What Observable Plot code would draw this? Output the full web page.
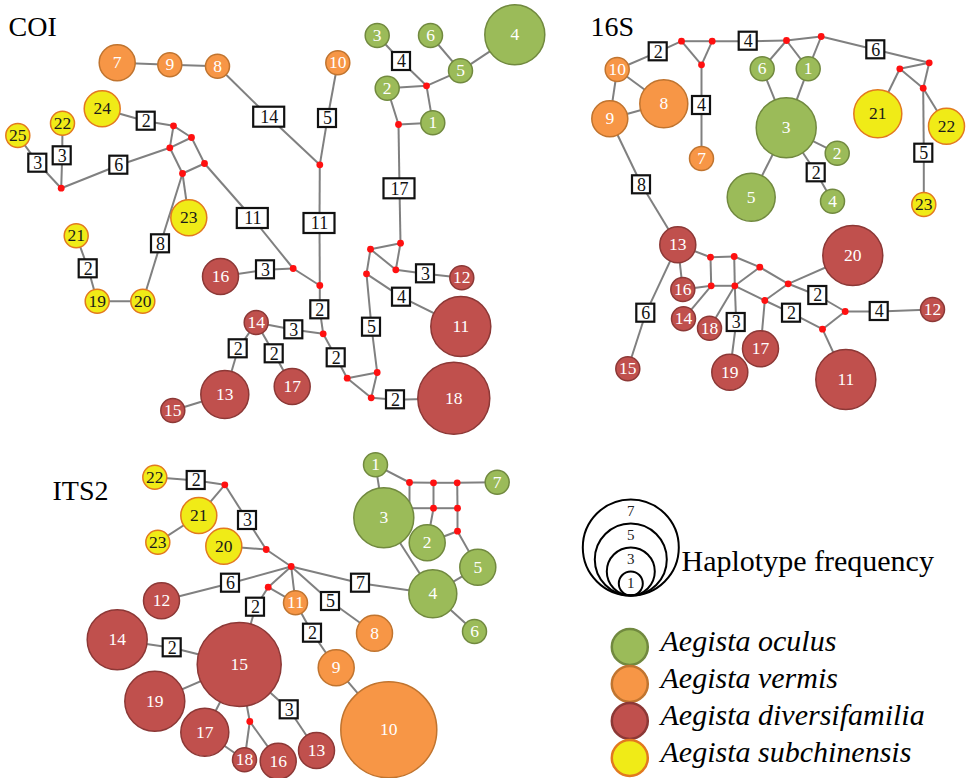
<!DOCTYPE html>
<html>
<head>
<meta charset="utf-8">
<script src="https://cdn.jsdelivr.net/npm/d3@7"></script>
<script src="https://cdn.jsdelivr.net/npm/@observablehq/plot@0.6"></script>
<style>
  html, body { margin: 0; padding: 0; background: #fff; }
  #chart svg { display: block; background: #fff; }
</style>
</head>
<body>
<div id="chart"></div>
<script>
// ---------- legend / category data ----------
const speciesCodes = ["O", "V", "D", "S"];
const speciesNames = ["Aegista oculus", "Aegista vermis", "Aegista diversifamilia", "Aegista subchinensis"];
const freqLegend = [7, 5, 3, 1];
const panelTitles = [["COI", 8, 35], ["16S", 590, 35], ["ITS2", 52, 499]];

// ---------- COI network ----------
// haplotypes: [id, species, frequency, x, y]
const coiHaplotypes = [
  [7,"V",2,116.7,62.3],[9,"V",1,169.3,64.3],[8,"V",1,217,65.7],[10,"V",1,337.3,62.3],
  [24,"S",2,101.7,108.3],[22,"S",1,62,122.7],[25,"S",1,17.3,135],[23,"S",2,188.3,217.3],
  [21,"S",1,75.7,235.3],[19,"S",1,96.7,300.7],[20,"S",1,142.3,300.7],
  [16,"D",2,220,276],[14,"D",1,255.7,322],[13,"D",3,224.3,394],[17,"D",2,291.7,386],
  [15,"D",1,172.3,410],[12,"D",1,461.3,277.3],[11,"D",4,460.3,326],[18,"D",5,453.3,397.7],
  [3,"O",1,376.7,35],[6,"O",1,430,35],[4,"O",4,514.3,34.3],[5,"O",1,460,70.3],
  [2,"O",1,386.7,87.7],[1,"O",1,432.3,122.3]
];
// median vectors: [id, x, y]
const coiMedians = [
  ["m1",173,125.3],["m2",191,137],["m3",169.3,147.3],["m4",204,163],["m5",182,173],
  ["m6",60.7,187.7],["m7",319.3,164.3],["m8",292.7,268],["m9",319.3,285],["m10",322.7,333.3],
  ["m11",426,85.3],["m12",398,124],["m13",400,242.7],["m14",370,248.7],["m15",395.3,269.3],
  ["m16",366,273.3],["m17",376.7,372],["m18",346.7,377.7],["m19",370.7,397.3]
];
// mutation steps: [from, to, steps, x, y]
const coiSteps = [
  [24,"m1",2,145.7,120.7],[25,"m6",3,37.3,162.7],[22,"m6",3,61.7,155.3],["m6","m3",6,118.3,164.7],
  [8,"m7",14,268.7,116.7],[10,"m7",5,327,118],["m4","m8",11,252.3,218],["m7","m9",11,319,223],
  ["m5",20,8,160,243.3],[21,19,2,87.7,268.3],[16,"m8",3,265,269.3],["m9","m10",2,319.3,309.3],
  [14,"m10",3,293.3,329.3],[14,13,2,237.7,348.3],[14,17,2,273.7,353.3],["m10","m18",2,335.7,357.3],
  [3,"m11",4,401,61],["m12","m13",17,399,188.3],["m15",12,3,425,273.3],["m16",11,4,401,296.7],
  ["m16","m17",5,371,326.7],["m19",18,2,395,399.3]
];
const coiLinks = [
  [7,9],[9,8],["m1","m2"],["m1","m3"],["m2","m3"],["m2","m4"],["m3","m5"],["m4","m5"],["m5",23],
  ["m8","m9"],[13,15],[6,5],[5,4],[5,"m11"],["m11",2],["m11",1],[2,"m12"],[1,"m12"],
  ["m13","m14"],["m13","m15"],["m14","m15"],["m14","m16"],["m17","m18"],["m17","m19"],["m18","m19"],[19,20]
];

// ---------- 16S network ----------
const s16Haplotypes = [
  [10,"V",1,616.7,69],[9,"V",2,609.3,118.3],[8,"V",3,663.3,103.3],[7,"V",1,701,158],
  [6,"O",1,761.7,68.3],[1,"O",1,807.7,68.3],[3,"O",4,785.7,127.3],[2,"O",1,836.7,152.7],
  [4,"O",1,832,200.7],[5,"O",3,750.7,196.7],
  [21,"S",3,877.3,113.3],[22,"S",2,946,125.7],[23,"S",1,923.3,204],
  [13,"D",2,677.3,244.3],[16,"D",1,682.3,289],[14,"D",1,683,318.3],[18,"D",1,709,327.7],
  [19,"D",2,729.3,371.7],[17,"D",2,760,348.3],[20,"D",4,852.3,255],[11,"D",4,845.3,379],
  [12,"D",1,932,309],[15,"D",1,627.3,368.3]
];
const s16Medians = [
  ["n1",681,40.7],["n2",711.7,40.7],["n3",701,64.3],["n4",786,40],["n5",820.7,36],
  ["n6",928.7,62.3],["n7",899.3,68.3],["n8",922.7,87.7],["n9",710,256.7],["n10",733.7,256],
  ["n11",759.3,266.7],["n12",710.7,285.3],["n13",734.3,285.3],["n14",787.7,283.3],
  ["n15",764.3,300],["n16",844.7,311],["n17",822,328.7]
];
const s16Steps = [
  [10,"n1",2,657.7,51.3],["n3",7,4,701,105],["n2","n4",4,747.7,40.7],["n5","n6",6,875.3,49.3],
  ["n8",23,5,923.3,152.7],[3,4,2,815.7,172.3],[9,13,8,641,184.3],[13,15,6,645.3,312.7],
  ["n13",19,3,735.7,322],["n14","n16",2,817.3,295],["n15","n17",2,791,312.7],["n16",12,4,878.7,311]
];
const s16Links = [
  ["n1","n2"],["n1","n3"],["n2","n3"],[10,9],[10,8],[9,8],["n4","n5"],["n4",6],["n4",1],["n5",1],
  [6,3],[1,3],[3,2],[3,5],["n6","n7"],["n6","n8"],["n7","n8"],["n7",21],["n8",22],
  [13,"n9"],["n9","n10"],["n10","n11"],[13,16],[16,"n12"],["n9","n12"],["n10","n13"],["n12","n13"],
  [14,"n12"],["n13",18],["n13","n11"],["n13","n15"],["n11","n14"],["n15","n14"],["n14",20],
  ["n15",17],["n16","n17"],["n17",11]
];

// ---------- ITS2 network ----------
const itsHaplotypes = [
  [22,"S",1,154.3,476.7],[21,"S",2,198.3,515],[23,"S",1,157.3,541.7],[20,"S",2,223.3,545.7],
  [12,"D",2,161,600.3],[11,"V",1,295,602.3],[14,"D",4,116.7,639.3],[15,"D",6,238.7,664],
  [19,"D",4,154.3,700.7],[17,"D",3,204.3,731.7],[18,"D",1,244,759.3],[16,"D",2,277.7,760.7],
  [13,"D",2,316,750],
  [1,"O",1,375,464.3],[7,"O",1,496.7,481.7],[3,"O",4,383.3,517.3],[2,"O",2,426.7,542.3],
  [5,"O",2,477.3,566.7],[4,"O",3,432.3,593.3],[6,"O",1,474,631],
  [8,"V",2,374,632.7],[9,"V",2,335.7,667.3],[10,"V",7,388.3,729.3]
];
const itsMedians = [
  ["p1",224.3,484.3],["p2",265.7,549],["p3",290.7,566],["p4",267.7,586.7],["p5",249.3,721],
  ["p6",409,482],["p7",433,482.3],["p8",456.7,482.3],["p9",433,507.7],["p10",457,507.7],["p11",457,530.7]
];
const itsJunctions = [["j1",409,507.7]];
const itsSteps = [
  [22,"p1",2,195.7,480],["p1","p2",3,247,520],["p3",12,6,230,582.7],["p4",15,2,255,606.7],
  ["p3",8,5,330,601],["p3",4,7,360,582.7],[11,9,2,312,632.7],[14,15,2,171.7,647.3],[15,13,3,288.7,709.3]
];
const itsLinks = [
  ["p1",21],[21,23],[20,"p2"],["p2","p3"],["p3","p4"],["p3",11],["p4",11],[15,19],[15,17],[15,"p5"],
  ["p5",18],["p5",16],[17,18],[9,10],[1,3],[1,"p6"],["p6","p7"],["p7","p8"],["p8",7],["p6","j1"],
  ["j1","p9"],["p7","p9"],["p9","p10"],["p8","p10"],["p10","p11"],["p9",2],[2,"p11"],["p11",5],
  [3,4],[4,5],[4,6]
];

// ---------- styling ----------
const FONT = "'Liberation Serif','Times New Roman',serif";
const fillColors = ["#9bbb59", "#f79646", "#c0504d", "#f0eb17"];
const strokeColors = {O: "#71893f", V: "#c0742f", D: "#8c3836", S: "#e2791f"};
const freqDomain = [0, 7];
const radiusRange = [6, 48];
const rScale = d3.scaleLinear(freqDomain, radiusRange);

// ---------- build graph tables ----------
const panels = [
  {hap: coiHaplotypes, med: coiMedians, jun: [], steps: coiSteps, links: coiLinks},
  {hap: s16Haplotypes, med: s16Medians, jun: [], steps: s16Steps, links: s16Links},
  {hap: itsHaplotypes, med: itsMedians, jun: itsJunctions, steps: itsSteps, links: itsLinks}
];
const nodes = [], medians = [], boxes = [], edges = [];
for (const p of panels) {
  const pos = new Map();
  for (const [id, sp, freq, x, y] of p.hap) {
    const n = {label: String(id), sp, freq, x, y};
    nodes.push(n); pos.set(id, n);
  }
  for (const [id, x, y] of p.med) { const n = {x, y}; medians.push(n); pos.set(id, n); }
  for (const [id, x, y] of p.jun) pos.set(id, {x, y});
  for (const [a, b, n, x, y] of p.steps) {
    const s = {label: String(n), x, y};
    boxes.push(s);
    edges.push([pos.get(a), s], [s, pos.get(b)]);
  }
  for (const [a, b] of p.links) edges.push([pos.get(a), pos.get(b)]);
}
const boxHalfW = d => d.label.length > 1 ? 15.5 : 9;
const boxHalfH = d => d.label.length > 1 ? 10 : 9;

// legend layout
const freqLegendX = 630.3, freqLegendBottom = 595;
const speciesLegendX = 629.3, speciesLegendY0 = 646.5, speciesLegendStep = 37;

const chart = Plot.plot({
  width: 967,
  height: 778,
  margin: 0,
  x: {domain: [0, 967], range: [0, 967], axis: null},
  y: {domain: [0, 778], range: [0, 778], axis: null},
  r: {type: "linear", domain: freqDomain, range: radiusRange},
  color: {domain: speciesCodes, range: fillColors},
  marks: [
    // network edges
    Plot.link(edges, {
      x1: d => d[0].x, y1: d => d[0].y, x2: d => d[1].x, y2: d => d[1].y,
      stroke: "#808080", strokeWidth: 2
    }),
    // mutation step boxes
    Plot.rect(boxes, {
      x1: d => d.x - boxHalfW(d), x2: d => d.x + boxHalfW(d),
      y1: d => d.y - boxHalfH(d), y2: d => d.y + boxHalfH(d),
      fill: "white", stroke: "#111", strokeWidth: 2.2
    }),
    Plot.text(boxes, {x: "x", y: "y", text: "label", fontSize: 18, fontFamily: FONT, fill: "#111"}),
    // median vectors
    Plot.dot(medians, {x: "x", y: "y", r: 3.4, fill: "#ff1010", stroke: "none"}),
    // haplotypes
    Plot.dot(nodes, {
      x: "x", y: "y", r: "freq", fill: "sp",
      stroke: d => strokeColors[d.sp], strokeWidth: 1.5
    }),
    Plot.text(nodes, {
      x: "x", y: "y", text: "label", fontSize: 17.5, fontFamily: FONT,
      fill: d => d.sp === "S" ? "#1a1a1a" : "#ffffff"
    }),
    // panel titles
    Plot.text(panelTitles, {
      x: d => d[1], y: d => d[2], text: d => d[0], fontSize: 28, fontFamily: FONT,
      textAnchor: "start", lineAnchor: "bottom", fill: "#000"
    }),
    // haplotype frequency legend
    Plot.dot(freqLegend, {
      x: () => freqLegendX, y: f => freqLegendBottom - rScale(f), r: f => f,
      fill: "none", stroke: "#000", strokeWidth: 2
    }),
    Plot.text(freqLegend, {
      x: () => freqLegendX, y: f => freqLegendBottom - 2 * rScale(f) + 12, text: f => String(f),
      fontSize: 15, fontFamily: FONT, fill: "#222"
    }),
    Plot.text(["Haplotype frequency"], {
      x: () => 681, y: () => 570, text: d => d, fontSize: 30, fontFamily: FONT,
      textAnchor: "start", lineAnchor: "bottom", fill: "#000"
    }),
    // species legend
    Plot.dot(speciesCodes, {
      x: () => speciesLegendX, y: (d, i) => speciesLegendY0 + i * speciesLegendStep,
      r: () => 2, fill: d => d, stroke: d => strokeColors[d], strokeWidth: 2.5
    }),
    Plot.text(speciesNames, {
      x: () => 660, y: (d, i) => speciesLegendY0 + i * speciesLegendStep + 4,
      text: d => d, fontSize: 30, fontFamily: FONT, fontStyle: "italic",
      textAnchor: "start", lineAnchor: "bottom", fill: "#000"
    })
  ]
});
document.getElementById("chart").append(chart);
</script>
</body>
</html>
